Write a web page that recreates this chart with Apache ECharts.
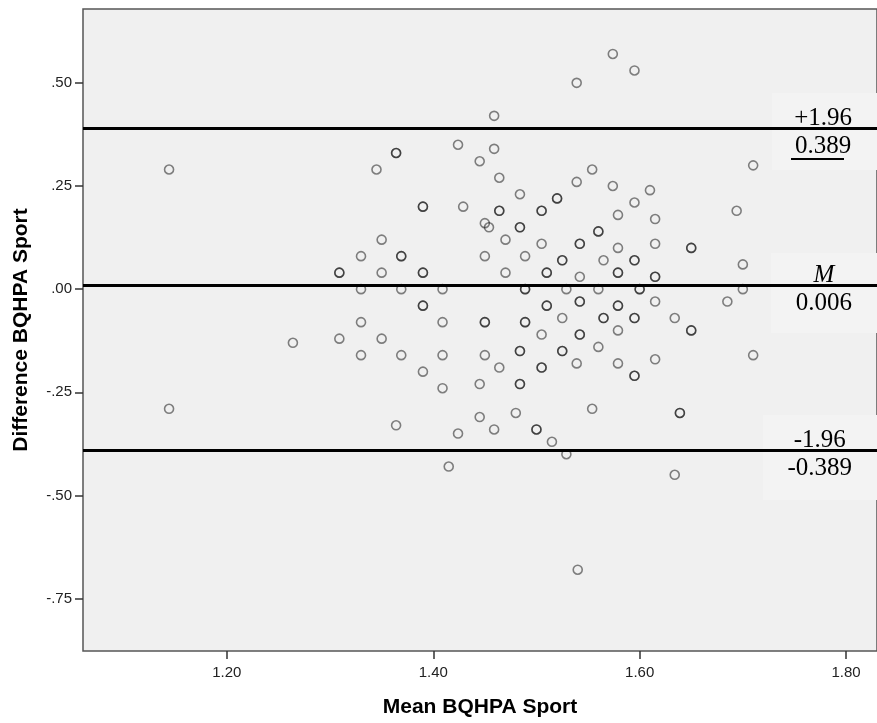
<!DOCTYPE html>
<html>
<head>
<meta charset="utf-8">
<script src="https://cdn.jsdelivr.net/npm/echarts@6/dist/echarts.min.js"></script>
<style>html,body{margin:0;padding:0;background:#fff}#c{width:877px;height:723px}</style>
</head>
<body>
<div id="c"></div>
<script>
// Mean of the two measurements (x) and their difference (y); overlapping points appear twice
const meanBQHPA = [
  1.144, 1.144, 1.264, 1.539, 1.574, 1.595, 1.459, 1.424, 1.459, 1.364, 1.364,
  1.445, 1.345, 1.554, 1.710, 1.464, 1.539, 1.574, 1.610, 1.484, 1.520, 1.520,
  1.595, 1.390, 1.390, 1.429, 1.464, 1.464, 1.505, 1.505, 1.694, 1.579, 1.615,
  1.450, 1.454, 1.484, 1.484, 1.560, 1.560, 1.350, 1.470, 1.505, 1.542, 1.542,
  1.615, 1.579, 1.650, 1.650, 1.330, 1.369, 1.369, 1.450, 1.489, 1.525, 1.525,
  1.565, 1.595, 1.595, 1.700, 1.309, 1.309, 1.350, 1.390, 1.390, 1.470, 1.510,
  1.510, 1.542, 1.579, 1.579, 1.615, 1.615, 1.330, 1.369, 1.409, 1.489, 1.489,
  1.529, 1.560, 1.600, 1.600, 1.700, 1.390, 1.390, 1.510, 1.510, 1.542, 1.542,
  1.579, 1.579, 1.615, 1.685, 1.330, 1.409, 1.450, 1.450, 1.489, 1.489, 1.525,
  1.565, 1.565, 1.595, 1.595, 1.634, 1.505, 1.542, 1.542, 1.579, 1.650, 1.650,
  1.309, 1.350, 1.330, 1.369, 1.409, 1.450, 1.484, 1.484, 1.525, 1.525, 1.560,
  1.710, 1.539, 1.579, 1.615, 1.464, 1.505, 1.505, 1.390, 1.595, 1.595, 1.409,
  1.445, 1.484, 1.484, 1.554, 1.639, 1.639, 1.364, 1.445, 1.480, 1.424, 1.459,
  1.500, 1.500, 1.515, 1.529, 1.415, 1.634, 1.540
];
const diffBQHPA = [
  0.29, -0.29, -0.13, 0.50, 0.57, 0.53, 0.42, 0.35, 0.34, 0.33, 0.33,
  0.31, 0.29, 0.29, 0.30, 0.27, 0.26, 0.25, 0.24, 0.23, 0.22, 0.22,
  0.21, 0.20, 0.20, 0.20, 0.19, 0.19, 0.19, 0.19, 0.19, 0.18, 0.17,
  0.16, 0.15, 0.15, 0.15, 0.14, 0.14, 0.12, 0.12, 0.11, 0.11, 0.11,
  0.11, 0.10, 0.10, 0.10, 0.08, 0.08, 0.08, 0.08, 0.08, 0.07, 0.07,
  0.07, 0.07, 0.07, 0.06, 0.04, 0.04, 0.04, 0.04, 0.04, 0.04, 0.04,
  0.04, 0.03, 0.04, 0.04, 0.03, 0.03, 0.00, 0.00, 0.00, 0.00, 0.00,
  0.00, 0.00, 0.00, 0.00, 0.00, -0.04, -0.04, -0.04, -0.04, -0.03, -0.03,
  -0.04, -0.04, -0.03, -0.03, -0.08, -0.08, -0.08, -0.08, -0.08, -0.08, -0.07,
  -0.07, -0.07, -0.07, -0.07, -0.07, -0.11, -0.11, -0.11, -0.10, -0.10, -0.10,
  -0.12, -0.12, -0.16, -0.16, -0.16, -0.16, -0.15, -0.15, -0.15, -0.15, -0.14,
  -0.16, -0.18, -0.18, -0.17, -0.19, -0.19, -0.19, -0.20, -0.21, -0.21, -0.24,
  -0.23, -0.23, -0.23, -0.29, -0.30, -0.30, -0.33, -0.31, -0.30, -0.35, -0.34,
  -0.34, -0.34, -0.37, -0.40, -0.43, -0.45, -0.68
];
// Reference lines: upper limit, mean, lower limit
const limitValues = [0.389, 0.006, -0.389];
const limitTitles = ['+1.96', 'M', '-1.96'];
const limitTexts = ['0.389', '0.006', '-0.389'];
const xTicks = [1.2, 1.4, 1.6, 1.8];
const yTicks = [-0.75, -0.5, -0.25, 0, 0.25, 0.5];

const chart = echarts.init(document.getElementById('c'));
const points = meanBQHPA.map((m, i) => [m, diffBQHPA[i]]);

const fmtY = v => {
  const s = Math.abs(v).toFixed(2).replace(/^0/, '');
  return (v < 0 ? '-' : '') + s;
};

chart.setOption({
  animation: false,
  backgroundColor: '#ffffff',
  grid: {
    left: 83, top: 9, right: -1, bottom: 70,
    show: true, backgroundColor: '#f0f0f0', borderColor: '#555', borderWidth: 1.5
  },
  graphic: [
    { type: 'rect', z: 1, silent: true, shape: { x: 772, y: 93, width: 110, height: 77 }, style: { fill: '#f3f3f3' } },
    { type: 'rect', z: 1, silent: true, shape: { x: 771, y: 253, width: 110, height: 80 }, style: { fill: '#f3f3f3' } },
    { type: 'rect', z: 1, silent: true, shape: { x: 763, y: 415, width: 120, height: 85 }, style: { fill: '#f3f3f3' } },
    { type: 'line', z: 5, silent: true, shape: { x1: 791, y1: 159, x2: 844, y2: 159 }, style: { stroke: '#000', lineWidth: 2 } }
  ],
  xAxis: {
    type: 'value', min: 1.0606, max: 1.830,
    name: 'Mean BQHPA Sport', nameLocation: 'middle', nameGap: 46,
    nameTextStyle: { fontFamily: 'Liberation Sans', fontWeight: 'bold', fontSize: 21, color: '#000' },
    axisLine: { show: false, onZero: false },
    splitLine: { show: false },
    axisTick: { show: true, customValues: xTicks, length: 8, lineStyle: { color: '#333', width: 1.5 } },
    axisLabel: { customValues: xTicks, margin: 14, fontFamily: 'Liberation Sans', fontSize: 15, color: '#222',
      formatter: v => v.toFixed(2) }
  },
  yAxis: {
    type: 'value', min: -0.877, max: 0.679,
    name: 'Difference BQHPA Sport', nameLocation: 'middle', nameGap: 51,
    nameTextStyle: { fontFamily: 'Liberation Sans', fontWeight: 'bold', fontSize: 21, color: '#000' },
    axisLine: { show: false, onZero: false },
    splitLine: { show: false },
    axisTick: { show: true, customValues: yTicks, length: 8, lineStyle: { color: '#333', width: 1.5 } },
    axisLabel: { customValues: yTicks, margin: 11, fontFamily: 'Liberation Sans', fontSize: 15, color: '#222',
      formatter: fmtY }
  },
  series: [{
    type: 'scatter',
    data: points,
    symbol: 'circle',
    symbolSize: 9,
    itemStyle: { color: 'rgba(0,0,0,0)', borderColor: 'rgba(0,0,0,0.6)', borderWidth: 1.6 },
    markLine: {
      silent: true,
      symbol: 'none',
      lineStyle: { color: '#000', width: 3, type: 'solid' },
      label: {
        show: true, position: 'insideEnd', distance: 25,
        padding: [9, 0, 0, 0],
        rich: {
          t: { fontFamily: 'Liberation Serif', fontSize: 25, color: '#000', lineHeight: 28, align: 'center' },
          i: { fontFamily: 'Liberation Serif', fontSize: 25, fontStyle: 'italic', color: '#000', lineHeight: 28, align: 'center' }
        }
      },
      data: limitValues.map((v, i) => ({
        yAxis: v,
        label: {
          formatter: (limitTitles[i] === 'M' ? '{i|' : '{t|') + limitTitles[i] + '}\n{t|' + limitTexts[i] + '}'
        }
      }))
    }
  }]
});
</script>
</body>
</html>
